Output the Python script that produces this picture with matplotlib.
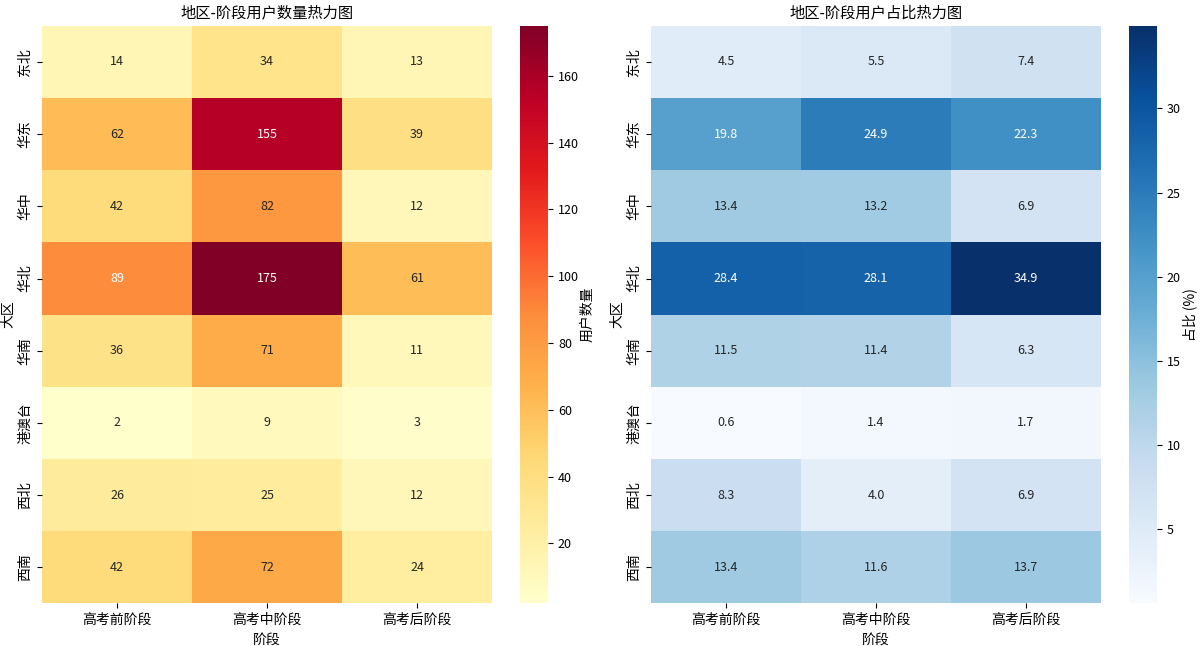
import numpy as np
import matplotlib
matplotlib.use("Agg")
import matplotlib.pyplot as plt
import seaborn as sns

plt.rcParams['font.family'] = ['Noto Sans CJK SC', 'DejaVu Sans']
plt.rcParams['axes.unicode_minus'] = False

regions = ['东北', '华东', '华中', '华北', '华南', '港澳台', '西北', '西南']
stages = ['高考前阶段', '高考中阶段', '高考后阶段']

# user counts per region / stage
counts = np.array([
    [14, 34, 13],
    [62, 155, 39],
    [42, 82, 12],
    [89, 175, 61],
    [36, 71, 11],
    [2, 9, 3],
    [26, 25, 12],
    [42, 72, 24],
])

# share of each stage (%)
shares = np.array([
    [4.5, 5.5, 7.4],
    [19.8, 24.9, 22.3],
    [13.4, 13.2, 6.9],
    [28.4, 28.1, 34.9],
    [11.5, 11.4, 6.3],
    [0.6, 1.4, 1.7],
    [8.3, 4.0, 6.9],
    [13.4, 11.6, 13.7],
])

fig = plt.figure(figsize=(12, 6.46), dpi=100)
ax1 = fig.add_axes([0.035, 0.066, 0.375, 0.894])
cax1 = fig.add_axes([0.4335, 0.066, 0.0233, 0.894])
ax2 = fig.add_axes([0.5425, 0.066, 0.375, 0.894])
cax2 = fig.add_axes([0.941, 0.066, 0.0233, 0.894])

sns.heatmap(counts, ax=ax1, cbar_ax=cax1, cmap='YlOrRd', annot=True, fmt='d',
            xticklabels=stages, yticklabels=regions,
            annot_kws={'fontsize': 9}, cbar_kws={'label': '用户数量'})
ax1.set_title('地区-阶段用户数量热力图', fontsize=11)
ax1.set_xlabel('阶段', fontsize=10)
ax1.set_ylabel('大区', fontsize=10, labelpad=2)

sns.heatmap(shares, ax=ax2, cbar_ax=cax2, cmap='Blues', annot=True, fmt='.1f',
            xticklabels=stages, yticklabels=regions,
            annot_kws={'fontsize': 9}, cbar_kws={'label': '占比 (%)'})
ax2.set_title('地区-阶段用户占比热力图', fontsize=11)
ax2.set_xlabel('阶段', fontsize=10)
ax2.set_ylabel('大区', fontsize=10, labelpad=2)

for ax in (ax1, ax2):
    ax.tick_params(axis='both', labelsize=10)
    plt.setp(ax.get_xticklabels(), rotation=0)
    plt.setp(ax.get_yticklabels(), rotation=90, va='center')

for cax in (cax1, cax2):
    cax.tick_params(labelsize=9)
    cax.yaxis.label.set_size(10)
    cax.yaxis.labelpad = 1

fig.savefig('out.png', dpi=100)
